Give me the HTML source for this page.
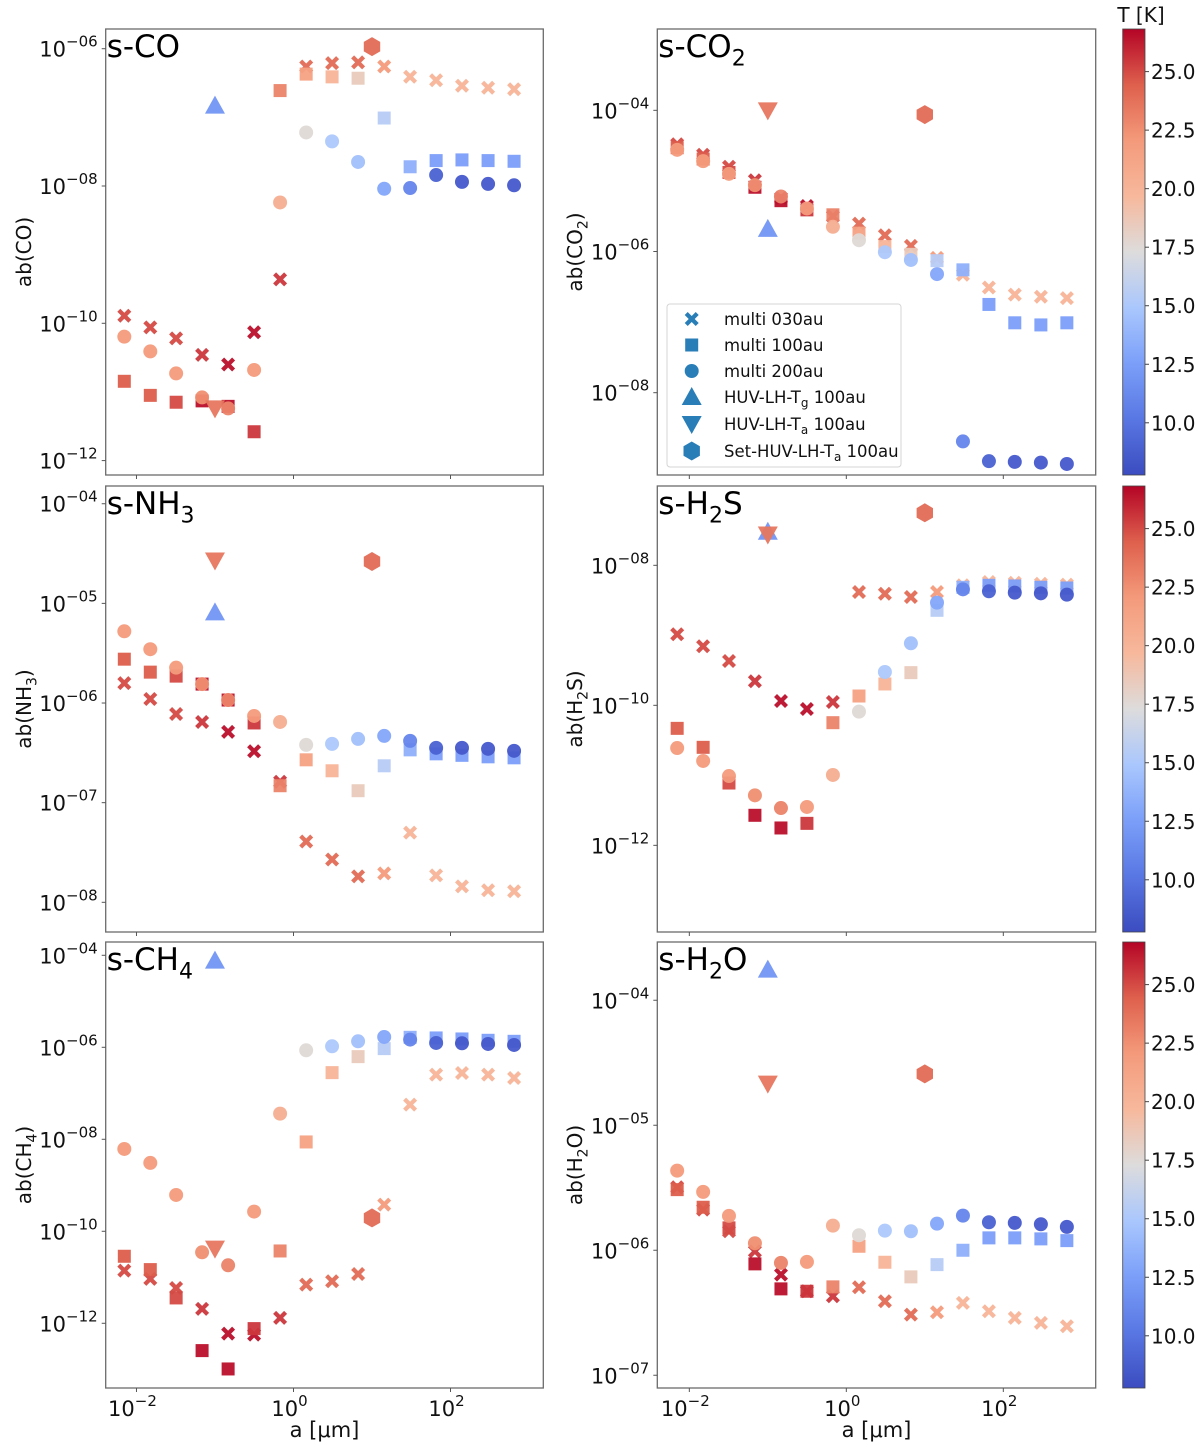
<!DOCTYPE html>
<html><head><meta charset="utf-8"><title>Ice abundances vs grain size</title>
<style>
html,body{margin:0;padding:0;background:#fff;}
svg{display:block;font-family:"DejaVu Sans","Liberation Sans",sans-serif;}
</style></head>
<body>
<svg id="fig" width="1200" height="1447" viewBox="0 0 1200 1447" xmlns="http://www.w3.org/2000/svg">
<defs>
<linearGradient id="cw" x1="0" y1="1" x2="0" y2="0">
<stop offset="0" stop-color="#3b4cc0"/><stop offset="0.125" stop-color="#5977e3"/>
<stop offset="0.25" stop-color="#7b9ff9"/><stop offset="0.375" stop-color="#aac7fd"/>
<stop offset="0.5" stop-color="#dddcdc"/><stop offset="0.625" stop-color="#f7b89c"/>
<stop offset="0.75" stop-color="#f49a7b"/><stop offset="0.875" stop-color="#de604d"/>
<stop offset="1" stop-color="#b40426"/>
</linearGradient>
</defs>
</svg>
<script>
// grain sizes (micron)
const aSizes = [0.007,0.015,0.032,0.0685,0.147,0.315,0.675,1.45,3.1,6.65,14.3,30.6,65.6,140,301,645];
const aSpecial = [0.1, 0.1, 10];
// temperatures (K)
const T030 = [25,25,25,25.5,26.5,26.5,25.5,24,24,24,22,20,20,20,20,20];
const T100 = [24.5,24.5,25,26.5,26.5,25.5,23,21.5,20,18.5,15.5,13.5,12.5,12.5,12.5,12.5];
const T200 = [22,22,22,22.5,23,22,20.5,17.5,15,14.5,13,11,9,8.5,8.5,8.5];
const TSpecial = [12, 23.5, 24];
const cbTicks = [10.0, 12.5, 15.0, 17.5, 20.0, 22.5, 25.0];
// log10 abundances
const co030 = [-9.89,-10.06,-10.22,-10.46,-10.60,-10.13,-9.36,-6.26,-6.21,-6.20,-6.26,-6.41,-6.46,-6.54,-6.57,-6.59];
const co100 = [-10.845,-11.05,-11.15,-11.13,-11.21,-11.58,-6.61,-6.37,-6.41,-6.43,-7.01,-7.72,-7.63,-7.62,-7.63,-7.64];
const co200 = [-10.195,-10.41,-10.73,-11.08,-11.24,-10.68,-8.24,-7.22,-7.35,-7.65,-8.04,-8.03,-7.84,-7.94,-7.97,-7.99];
const coSpecial = [-6.83,-11.24,-5.97];
const co2_030 = [-4.48,-4.63,-4.80,-4.99,-5.24,-5.355,-5.50,-5.605,-5.77,-5.92,-6.09,-6.33,-6.51,-6.61,-6.64,-6.66];
const co2_100 = [-4.53,-4.69,-4.88,-5.09,-5.28,-5.41,-5.48,-5.74,-5.93,-6.04,-6.13,-6.26,-6.75,-7.01,-7.04,-7.01];
const co2_200 = [-4.56,-4.72,-4.90,-5.06,-5.22,-5.39,-5.65,-5.84,-6.01,-6.12,-6.32,-8.69,-8.97,-8.98,-8.99,-9.01];
const co2Special = [-5.68,-4.0,-4.06];
const nh3_030 = [-5.80,-5.96,-6.11,-6.19,-6.29,-6.485,-6.79,-7.39,-7.57,-7.74,-7.71,-7.30,-7.73,-7.84,-7.88,-7.89];
const nh3_100 = [-5.56,-5.69,-5.73,-5.81,-5.97,-6.20,-6.83,-6.57,-6.68,-6.88,-6.63,-6.47,-6.51,-6.525,-6.54,-6.55];
const nh3_200 = [-5.28,-5.46,-5.645,-5.81,-5.97,-6.13,-6.19,-6.42,-6.41,-6.36,-6.33,-6.38,-6.45,-6.45,-6.46,-6.48];
const nh3Special = [-5.09,-4.57,-4.58];
const h2s030 = [-8.986,-9.157,-9.367,-9.657,-9.938,-10.052,-9.952,-8.381,-8.405,-8.452,-8.381,-8.286,-8.238,-8.248,-8.262,-8.276];
const h2s100 = [-10.329,-10.6,-11.11,-11.571,-11.752,-11.686,-10.248,-9.867,-9.695,-9.533,-8.643,-8.314,-8.286,-8.295,-8.314,-8.324];
const h2s200 = [-10.61,-10.795,-11.01,-11.286,-11.467,-11.452,-10.995,-10.09,-9.524,-9.114,-8.533,-8.343,-8.371,-8.39,-8.4,-8.419];
const h2sSpecial = [-7.52,-7.56,-7.25];
const ch4_030 = [-10.855,-11.036,-11.232,-11.688,-12.225,-12.246,-11.884,-11.159,-11.087,-10.928,-9.42,-7.246,-6.594,-6.558,-6.594,-6.667];
const ch4_100 = [-10.543,-10.833,-11.449,-12.594,-12.993,-12.116,-10.428,-8.058,-6.551,-6.203,-6.029,-5.783,-5.797,-5.819,-5.848,-5.87];
const ch4_200 = [-8.21,-8.514,-9.21,-10.457,-10.739,-9.572,-7.442,-6.065,-5.978,-5.87,-5.775,-5.833,-5.906,-5.913,-5.928,-5.949];
const ch4Special = [-4.116,-10.377,-9.71];
const h2o030 = [-5.496,-5.675,-5.848,-6.008,-6.195,-6.328,-6.368,-6.296,-6.408,-6.515,-6.496,-6.421,-6.488,-6.541,-6.581,-6.608];
const h2o100 = [-5.515,-5.656,-5.821,-6.109,-6.309,-6.328,-6.293,-5.968,-6.096,-6.213,-6.115,-6.0,-5.901,-5.901,-5.909,-5.923];
const h2o200 = [-5.363,-5.533,-5.725,-5.944,-6.101,-6.093,-5.803,-5.88,-5.843,-5.848,-5.787,-5.723,-5.776,-5.781,-5.792,-5.813];
const h2oSpecial = [-3.755,-4.667,-4.589];

const NS = "http://www.w3.org/2000/svg";
const svg = document.getElementById('fig');
function mk(tag, attrs, parent){ const e=document.createElementNS(NS,tag); for(const k in attrs) e.setAttribute(k,attrs[k]); (parent||svg).appendChild(e); return e; }

const TMIN=7.77, TMAX=26.82;
const cwStops=[[0,[59,76,192]],[0.125,[89,119,227]],[0.25,[123,159,249]],[0.375,[170,199,253]],[0.5,[221,220,220]],[0.625,[247,184,156]],[0.75,[244,154,123]],[0.875,[222,96,77]],[1,[180,4,38]]];
function tColor(T){
  let t=(T-TMIN)/(TMAX-TMIN); t=Math.max(0,Math.min(1,t));
  for(let i=1;i<cwStops.length;i++){ if(t<=cwStops[i][0]){ const a=cwStops[i-1],b=cwStops[i]; const f=(t-a[0])/(b[0]-a[0]);
    const c=a[1].map((v,j)=>Math.round(v+(b[1][j]-v)*f)); return `rgb(${c[0]},${c[1]},${c[2]})`; } }
  return 'rgb(180,4,38)';
}

function marker(kind, x, y, color, parent){
  let e;
  if(kind==='x'){
    const r=7,w=3;
    const pts=[[-r,-r+w],[-r+w,-r],[0,-w],[r-w,-r],[r,-r+w],[w,0],[r,r-w],[r-w,r],[0,w],[-r+w,r],[-r,r-w],[-w,0]];
    e=mk('polygon',{points:pts.map(p=>(x+p[0]).toFixed(1)+','+(y+p[1]).toFixed(1)).join(' '),fill:color},parent);
  } else if(kind==='s'){
    e=mk('rect',{x:x-6.5,y:y-6.5,width:13,height:13,fill:color},parent);
  } else if(kind==='o'){
    e=mk('circle',{cx:x,cy:y,r:7,fill:color},parent);
  } else if(kind==='^'){
    e=mk('polygon',{points:`${x},${y-10} ${x+10},${y+8} ${x-10},${y+8}`,fill:color},parent);
  } else if(kind==='v'){
    e=mk('polygon',{points:`${x},${y+10} ${x+10},${y-8} ${x-10},${y-8}`,fill:color},parent);
  } else {
    const pts=[]; for(let i=0;i<6;i++){const a=Math.PI/2+i*Math.PI/3; pts.push((x+9.5*Math.cos(a)).toFixed(1)+','+(y-9.5*Math.sin(a)).toFixed(1));}
    e=mk('polygon',{points:pts.join(' '),fill:color},parent);
  }
  e.setAttribute('fill-opacity','0.95');
  return e;
}

const cols=[{x0:105.7,x1:543.3,d0:-2.392,d1:3.182,ylab:24},{x0:657.3,x1:1095.7,d0:-2.408,d1:3.177,ylab:575}];
const rows=[[29,475],[486,932],[942,1388]];

const panels=[
 {name:'co',title:['s-CO',''],ylab:['ab(CO)',''],col:0,row:0,ymin:-12.21,ymax:-5.713,ticks:[-12,-10,-8,-6],d:[co030,co100,co200,coSpecial]},
 {name:'co2',title:['s-CO','2'],ylab:['ab(CO','2',')'],col:1,row:0,ymin:-9.166,ymax:-2.848,ticks:[-8,-6,-4],d:[co2_030,co2_100,co2_200,co2Special]},
 {name:'nh3',title:['s-NH','3'],ylab:['ab(NH','3',')'],col:0,row:1,ymin:-8.298,ymax:-3.822,ticks:[-8,-7,-6,-5,-4],d:[nh3_030,nh3_100,nh3_200,nh3Special]},
 {name:'h2s',title:['s-H','2','S'],ylab:['ab(H','2','S)'],col:1,row:1,ymin:-13.238,ymax:-6.867,ticks:[-12,-10,-8],d:[h2s030,h2s100,h2s200,h2sSpecial]},
 {name:'ch4',title:['s-CH','4'],ylab:['ab(CH','4',')'],col:0,row:2,ymin:-13.407,ymax:-3.711,ticks:[-12,-10,-8,-6,-4],d:[ch4_030,ch4_100,ch4_200,ch4Special]},
 {name:'h2o',title:['s-H','2','O'],ylab:['ab(H','2','O)'],col:1,row:2,ymin:-7.102,ymax:-3.534,ticks:[-7,-6,-5,-4],d:[h2o030,h2o100,h2o200,h2oSpecial]}
];

function subText(parts, attrs, big, small, parent){
  const t=mk('text',attrs,parent);
  parts.forEach((p,i)=>{ if(!p) return; const ts=mk('tspan',{},t); ts.textContent=p;
    if(i===1){ ts.setAttribute('font-size',small); ts.setAttribute('dy', big*0.28); }
    else if(i===2){ ts.setAttribute('dy', -big*0.28); } });
  return t;
}

panels.forEach(p=>{
  const c=cols[p.col], r=rows[p.row];
  const g=mk('g',{});
  
  
  const X=v=>c.x0+(Math.log10(v)-c.d0)/(c.d1-c.d0)*(c.x1-c.x0);
  const Y=l=>r[1]-(l-p.ymin)/(p.ymax-p.ymin)*(r[1]-r[0]);
  const fr=mk('rect',{x:c.x0,y:r[0],width:c.x1-c.x0,height:r[1]-r[0],fill:'none',stroke:'#6b6b6b','stroke-width':1.3},g);
  
  
  p.ticks.forEach(tk=>{
    const y=Y(tk);
    mk('line',{x1:c.x0-4,x2:c.x0,y1:y,y2:y,stroke:'#555','stroke-width':1},g);
    const t=mk('text',{x:c.x0-8,y:y+8,'text-anchor':'end','font-size':21,fill:'#111'},g);
    
    
    const a=mk('tspan',{},t); a.textContent='10';
    const b=mk('tspan',{'font-size':15,dy:-10},t); const n=Math.abs(tk); b.textContent='\u2212'+(n<10?'0'+n:n);
  });
  [-2,0,2].forEach(tk=>{
    const x=c.x0+(tk-c.d0)/(c.d1-c.d0)*(c.x1-c.x0);
    mk('line',{x1:x,x2:x,y1:r[1],y2:r[1]+4,stroke:'#555','stroke-width':1},g);
    if(p.row===2){
      const t=mk('text',{x:x-4,y:r[1]+28,'text-anchor':'middle','font-size':21,fill:'#111'},g);
      
      
      const a=mk('tspan',{},t); a.textContent='10';
      const b=mk('tspan',{'font-size':15,dy:-10},t); b.textContent=tk<0?'\u2212'+Math.abs(tk):String(tk);
    }
  });
  if(p.row===2){
    const xl=mk('text',{x:(c.x0+c.x1)/2,y:1437,'text-anchor':'middle','font-size':21,fill:'#111'},g);
    xl.textContent='a [\u03bcm]';
    
    
  }
  const cy=(r[0]+r[1])/2;
  const yl=subText(p.ylab,{x:0,y:0,'text-anchor':'middle','font-size':20,fill:'#111',transform:`translate(${c.ylab+7},${cy}) rotate(-90)`},20,14,g);
  
  
  const kinds=['x','s','o'], Ts=[T030,T100,T200];
  for(let s=0;s<3;s++){
    p.d[s].forEach((l,i)=>{
      const m=marker(kinds[s],X(aSizes[i]),Y(l),tColor(Ts[s][i]),g);
      
      
    });
  }
  ['^','v','h'].forEach((k,i)=>{
    const m=marker(k,X(aSpecial[i]),Y(p.d[3][i]),tColor(TSpecial[i]),g);
    
    
  });
  const tt=subText(p.title,{x:c.x0+1,y:r[0]+28,'font-size':31,fill:'#000'},31,22,g);
  
  
});

rows.forEach((r,ri)=>{
  const g=mk('g',{});
  
  
  mk('rect',{x:1122.7,y:r[0],width:22.3,height:r[1]-r[0],fill:'url(#cw)',stroke:'#444','stroke-width':0.8},g);
  cbTicks.forEach(t=>{
    const y=r[1]-(t-TMIN)/(TMAX-TMIN)*(r[1]-r[0]);
    mk('line',{x1:1145,x2:1149,y1:y,y2:y,stroke:'#444','stroke-width':1},g);
    const tx=mk('text',{x:1151,y:y+7.5,'font-size':20,fill:'#111'},g);
    tx.textContent=t.toFixed(1);
    
    
  });
  if(ri===0){
    const tl=mk('text',{x:1141,y:22,'text-anchor':'middle','font-size':20,fill:'#111'},g);
    tl.textContent='T [K]';
    
    
  }
});

const lg=mk('g',{});


mk('rect',{x:667,y:304,width:234,height:163,rx:3,fill:'#fff','fill-opacity':0.9,stroke:'#d5d5d5','stroke-width':1},lg);
const legendLabels=[['multi 030au'],['multi 100au'],['multi 200au'],['HUV-LH-T','g',' 100au'],['HUV-LH-T','a',' 100au'],['Set-HUV-LH-T','a',' 100au']];
const legendKinds=['x','s','o','^','v','h'];
const legendY=[319,345,371,397,424,451];
legendLabels.forEach((lab,i)=>{
  const m=marker(legendKinds[i],691.7,legendY[i],'#1f77b4',lg);
  
  
  const t=mk('text',{x:724,y:legendY[i]+6,'font-size':16.5,fill:'#111'},lg);
  
  
  lab.forEach((s,j)=>{ const ts=mk('tspan',{},t); ts.textContent=s;
    if(j===1){ts.setAttribute('font-size',12);ts.setAttribute('dy',4);} if(j===2){ts.setAttribute('dy',-4);} });
});
</script>
</body></html>
